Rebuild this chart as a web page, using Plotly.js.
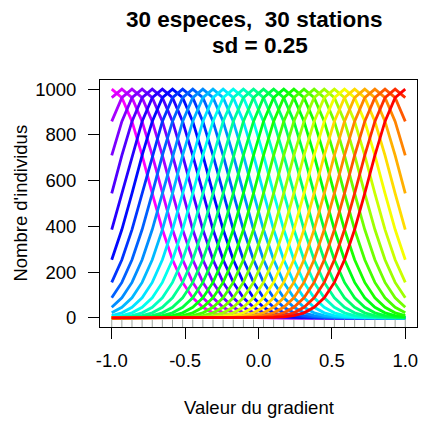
<!DOCTYPE html>
<html>
<head>
<meta charset="utf-8">
<script src="https://cdn.plot.ly/plotly-3.0.1.min.js"></script>
<style>html,body{margin:0;padding:0;background:#fff;}#chart{width:421px;height:421px;}</style>
</head>
<body>
<div id="chart"></div>
<script>
// Stations along the gradient (x positions)
var stations = [-1.000, -0.931, -0.862, -0.793, -0.724, -0.655, -0.586, -0.517, -0.448, -0.379,
                -0.310, -0.241, -0.172, -0.103, -0.034, 0.034, 0.103, 0.172, 0.241, 0.310,
                0.379, 0.448, 0.517, 0.586, 0.655, 0.724, 0.793, 0.862, 0.931, 1.000];
// Species optima (peak station index for each species, left to right)
var optimumIndex = [0,1,2,3,4,5,6,7,8,9,10,11,12,13,14,15,16,17,18,19,20,21,22,23,24,25,26,27,28,29];
var profile = [1000, 963, 859, 710, 544, 386, 254, 155, 88, 46, 22, 10, 4, 2, 1, 0];
// Curve colours (rainbow, magenta -> red)
var colors = ["#FF00FF","#D300FF","#A700FF","#7B00FF","#4F00FF","#2300FF","#0009FF","#0035FF","#0061FF","#008DFF",
              "#00B9FF","#00E5FF","#00FFED","#00FFC1","#00FF95","#00FF6A","#00FF3E","#00FF12","#1AFF00","#46FF00",
              "#72FF00","#9EFF00","#CAFF00","#F6FF00","#FFDC00","#FFB000","#FF8400","#FF5800","#FF2C00","#FF0000"];
var xTicks = [-1.0, -0.5, 0.0, 0.5, 1.0];
var xTickText = ["-1.0", "-0.5", "0.0", "0.5", "1.0"];
var yTicks = [0, 200, 400, 600, 800, 1000];
var titleLines = ["30 especes,\u00A0 30 stations", "sd = 0.25"];
var xTitle = "Valeur du gradient";
var yTitle = "Nombre d'individus";

function abundance(optIdx, stIdx) {
  var d = Math.abs(optIdx - stIdx);
  return d < profile.length ? profile[d] : 0;
}

var traces = optimumIndex.map(function (o, s) {
  return {
    type: 'scatter', mode: 'lines',
    x: stations,
    y: stations.map(function (_, i) { return abundance(o, i); }),
    line: {color: colors[s], width: 2.8},
    hoverinfo: 'skip', showlegend: false
  };
});

var shapes = stations.map(function (x) {
  return {type: 'line', xref: 'x', yref: 'paper', x0: x, x1: x, y0: 0, y1: 0.03,
          line: {color: '#a0a8a0', width: 1}};
});

var font = 'Liberation Sans, Arial, Helvetica, sans-serif';
var annotations = [
  {text: '<b>' + titleLines[0] + '</b>', xref: 'paper', yref: 'paper', x: 0.486, y: 1.243,
   xanchor: 'center', yanchor: 'middle', showarrow: false, font: {family: font, size: 22.5, color: '#000'}},
  {text: '<b>' + titleLines[1] + '</b>', xref: 'paper', yref: 'paper', x: 0.505, y: 1.138,
   xanchor: 'center', yanchor: 'middle', showarrow: false, font: {family: font, size: 22.5, color: '#000'}},
  {text: xTitle, xref: 'paper', yref: 'paper', x: 0.5, y: -0.324,
   xanchor: 'center', yanchor: 'middle', showarrow: false, font: {family: font, size: 18.5, color: '#000'}},
  {text: yTitle, xref: 'paper', yref: 'paper', x: -0.252, y: 0.5, textangle: -90,
   xanchor: 'center', yanchor: 'middle', showarrow: false, font: {family: font, size: 18.5, color: '#000'}}
];

var layout = {
  width: 421, height: 421,
  margin: {l: 100, r: 4, t: 80, b: 94, autoexpand: false},
  paper_bgcolor: '#fff', plot_bgcolor: '#fff',
  font: {family: font, size: 18.5, color: '#000'},
  xaxis: {range: [-1.08, 1.08], tickvals: xTicks, ticktext: xTickText, ticks: 'outside', ticklen: 11,
          tickcolor: '#000', showline: true, linecolor: '#000', linewidth: 1, mirror: true,
          showgrid: false, zeroline: false, automargin: false, ticklabelstandoff: 6,
          tickfont: {size: 18.5}},
  yaxis: {range: [-40, 1040], tickvals: yTicks, ticks: 'outside', ticklen: 11,
          tickcolor: '#000', showline: true, linecolor: '#000', linewidth: 1, mirror: true,
          showgrid: false, zeroline: false, automargin: false, ticklabelstandoff: 8,
          tickfont: {size: 18.5}},
  shapes: shapes,
  annotations: annotations
};

Plotly.newPlot('chart', traces, layout, {staticPlot: true, displayModeBar: false});
</script>
</body>
</html>
